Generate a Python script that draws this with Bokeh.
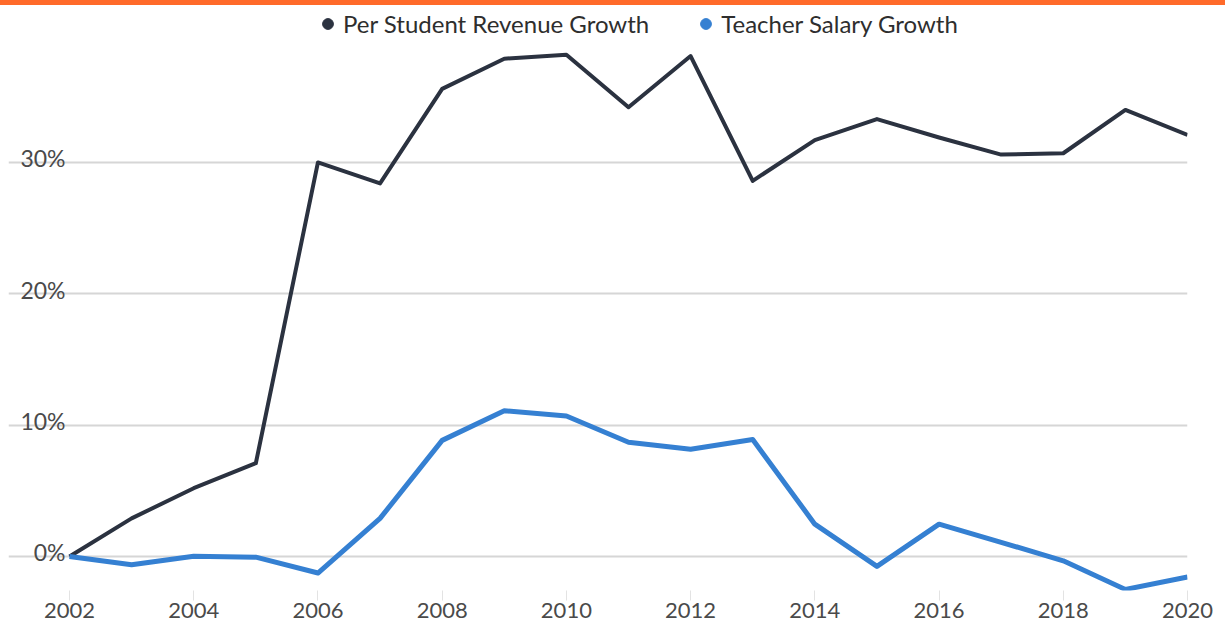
from bokeh.plotting import figure
from bokeh.models import Range1d, FixedTicker, Grid, Legend, LegendItem, Div
from bokeh.layouts import column
from bokeh.embed import file_html
from bokeh.resources import INLINE
from bokeh.core.properties import value

# ---------------- data ----------------
years = list(range(2002, 2021))
revenue_growth = [0.0, 2.9, 5.2, 7.1, 30.0, 28.4, 35.6, 37.9, 38.2, 34.2,
                  38.1, 28.6, 31.7, 33.3, 31.9, 30.6, 30.7, 34.0, 32.1]
salary_growth = [0.0, -0.63, 0.02, -0.05, -1.26, 2.9, 8.84, 11.1, 10.7, 8.7,
                 8.17, 8.9, 2.46, -0.75, 2.46, 1.08, -0.33, -2.51, -1.56]
series_names = ["Per Student Revenue Growth", "Teacher Salary Growth"]
y_ticks = [0, 10, 20, 30]
y_labels = ["0%", "10%", "20%", "30%"]
x_ticks = list(range(2002, 2021, 2))

# ---------------- style ----------------
FONT = "Lato"
DARK = "#2b3240"
BLUE = "#3580d2"
ORANGE = "#ff6a2a"
TEXT = "#4a4a4a"

bar = Div(width=1225, height=5, margin=0, styles={"background-color": ORANGE})

p = figure(frame_width=1179, frame_height=585,
           x_range=Range1d(2001.018, 2020), y_range=Range1d(-2.59, 41.95),
           y_axis_location=None, output_backend="svg", toolbar_location=None,
           title=None, min_border_left=8, min_border_right=38,
           min_border_top=0, min_border_bottom=40, margin=0,
           outline_line_color=None, background_fill_color="white",
           border_fill_color="white")

p.grid.visible = False
p.add_layout(Grid(dimension=1, ticker=FixedTicker(ticks=y_ticks),
                  grid_line_color="#d6d6d6", grid_line_width=2))

xa = p.xaxis[0]
xa.ticker = FixedTicker(ticks=x_ticks)
xa.axis_line_color = None
xa.major_tick_line_color = "#e3e3e3"
xa.major_tick_out = 10
xa.major_tick_in = 0
xa.minor_tick_line_color = None
xa.major_label_standoff = 2
xa.major_label_text_font = FONT
xa.major_label_text_font_size = "22px"
xa.major_label_text_color = TEXT

# y labels inside the plot, above the grid lines
p.text(x=[years[0]] * len(y_ticks), y=y_ticks, text=y_labels,
       text_align="right", text_baseline="alphabetic",
       x_offset=-4, y_offset=-4,
       text_font=value(FONT), text_font_size="23px", text_color=TEXT)

p.line(years, revenue_growth, line_color=DARK, line_width=4, line_join="round")
p.line(years, salary_growth, line_color=BLUE, line_width=5, line_join="round")

m1 = p.scatter(years, revenue_growth, size=0, color=DARK)
m2 = p.scatter(years, salary_growth, size=0, color=BLUE)

legend = Legend(items=[LegendItem(label=series_names[0], renderers=[m1]),
                       LegendItem(label=series_names[1], renderers=[m2])],
                location=(306, 552), orientation="horizontal",
                border_line_color=None, background_fill_alpha=0,
                label_text_font=FONT, label_text_font_size="24px",
                label_text_color="#2e2e2e",
                glyph_width=27, glyph_height=27, label_standoff=2,
                spacing=43, padding=0, margin=0)
p.add_layout(legend)

layout = column(bar, p, margin=0)
open("out.html", "w").write(file_html(layout, INLINE))
